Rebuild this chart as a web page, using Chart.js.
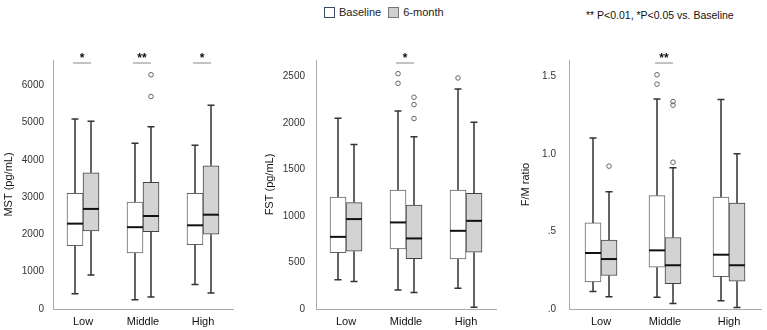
<!DOCTYPE html>
<html>
<head>
<meta charset="utf-8">
<script src="https://cdn.jsdelivr.net/npm/chart.js@4/dist/chart.umd.min.js"></script>
<style>
  body { margin: 0; background: #fff; font-family: "Liberation Sans", Arial, sans-serif; }
  #wrap { position: relative; width: 767px; height: 330px; overflow: hidden; }
  .panel { position: absolute; top: 0; height: 330px; }
  .legend { position: absolute; top: 6px; left: 324px; font-size: 11px; color: #222; display: flex; align-items: center; }
  .legend .box { width: 9px; height: 9px; border: 1px solid #3b4a66; margin-right: 4px; }
  .legend span { margin-right: 7px; }
  .note { position: absolute; top: 9px; left: 586px; font-size: 10.5px; color: #111; }
</style>
</head>
<body>
<div id="wrap">
  <div class="legend">
    <div class="box" style="background:#fff"></div><span>Baseline</span>
    <div class="box" style="background:#d0d0d0;border-color:#777"></div><span>6-month</span>
  </div>
  <div class="note">** P&lt;0.01, *P&lt;0.05 vs. Baseline</div>
  <div class="panel" style="left:0;width:240px"><canvas id="mstChart" width="240" height="330"></canvas></div>
  <div class="panel" style="left:260px;width:245px"><canvas id="fstChart" width="245" height="330"></canvas></div>
  <div class="panel" style="left:510px;width:257px"><canvas id="fmChart" width="257" height="330"></canvas></div>
</div>
<script>
const categories = ['Low', 'Middle', 'High'];
const seriesNames = ['Baseline', '6-month'];

// each box: [min, q1, median, q3, max]
const mstBaseline = [[410, 1700, 2290, 3105, 5095], [250, 1505, 2195, 2870, 4445], [660, 1725, 2245, 3105, 4395]];
const mstMonth6 = [[915, 2095, 2685, 3655, 5040], [325, 2075, 2495, 3395, 4890], [428, 2005, 2530, 3840, 5465]];
const mstOutBaseline = [[], [], []];
const mstOutMonth6 = [[], [6285, 5700], []];
const mstSig = ['*', '**', '*'];
const mstTicks = [0, 1000, 2000, 3000, 4000, 5000, 6000];

const fstBaseline = [[315, 604, 775, 1203, 2048], [205, 646, 930, 1278, 2127], [223, 538, 840, 1278, 2364]];
const fstMonth6 = [[295, 621, 966, 1143, 1766], [176, 542, 758, 1116, 1850], [18, 610, 947, 1242, 2007]];
const fstOutBaseline = [[], [2528, 2425], [2482]];
const fstOutMonth6 = [[], [2275, 2196, 2046], []];
const fstSig = ['', '*', ''];
const fstTicks = [0, 500, 1000, 1500, 2000, 2500];

const fmBaseline = [[0.113, 0.175, 0.361, 0.555, 1.103], [0.075, 0.269, 0.378, 0.731, 1.354], [0.053, 0.209, 0.350, 0.722, 1.35]];
const fmMonth6 = [[0.079, 0.216, 0.322, 0.444, 0.756], [0.036, 0.164, 0.282, 0.461, 0.91], [0.01, 0.179, 0.282, 0.683, 1.0]];
const fmOutBaseline = [[], [1.51, 1.449], []];
const fmOutMonth6 = [[0.921], [0.946, 1.337, 1.314], []];
const fmSig = ['', '**', ''];
const fmTicks = [0, 0.5, 1.0, 1.5];

// whiskers, medians, outliers and significance marks on top of the floating bars
const boxPlugin = {
  id: 'boxExtras',
  afterDatasetsDraw(chart) {
    const ctx = chart.ctx;
    const y = chart.scales.y;
    ctx.save();
    chart.data.datasets.forEach((ds, i) => {
      const meta = chart.getDatasetMeta(i);
      meta.data.forEach((bar, j) => {
        const [mn, q1, med, q3, mx] = ds.stats[j];
        const x = bar.x;
        const half = bar.width / 2;
        ctx.strokeStyle = '#333';
        ctx.lineWidth = 1.5;
        ctx.beginPath();
        ctx.moveTo(x, y.getPixelForValue(q3));
        ctx.lineTo(x, y.getPixelForValue(mx));
        ctx.moveTo(x, y.getPixelForValue(q1));
        ctx.lineTo(x, y.getPixelForValue(mn));
        ctx.moveTo(x - 3.5, y.getPixelForValue(mx));
        ctx.lineTo(x + 3.5, y.getPixelForValue(mx));
        ctx.moveTo(x - 3.5, y.getPixelForValue(mn));
        ctx.lineTo(x + 3.5, y.getPixelForValue(mn));
        ctx.stroke();
        // median
        ctx.strokeStyle = '#111';
        ctx.lineWidth = 2;
        ctx.beginPath();
        ctx.moveTo(x - half, y.getPixelForValue(med));
        ctx.lineTo(x + half, y.getPixelForValue(med));
        ctx.stroke();
        // outliers
        ctx.strokeStyle = '#666';
        ctx.lineWidth = 1;
        ds.outliers[j].forEach(v => {
          ctx.beginPath();
          ctx.arc(x, y.getPixelForValue(v), 2.3, 0, Math.PI * 2);
          ctx.stroke();
        });
      });
    });
    const m0 = chart.getDatasetMeta(0).data;
    const m1 = chart.getDatasetMeta(1).data;
    chart.options.plugins.boxExtras.sig.forEach((s, j) => {
      if (!s) return;
      const top = chart.chartArea.top + 3;
      ctx.strokeStyle = '#888';
      ctx.lineWidth = 1;
      ctx.beginPath();
      ctx.moveTo(m0[j].x - 2, top);
      ctx.lineTo(m1[j].x, top);
      ctx.stroke();
      ctx.fillStyle = '#111';
      ctx.font = 'bold 12px "Liberation Sans", Arial';
      ctx.textAlign = 'center';
      ctx.fillText(s, (m0[j].x + m1[j].x) / 2 - 1, top - 1);
    });
    ctx.restore();
  }
};

function makeChart(id, opts) {
  const ds = (label, stats, outliers, fill, border) => ({
    label,
    data: stats.map(s => [s[1], s[3]]),
    stats,
    outliers,
    backgroundColor: fill,
    borderColor: border,
    borderWidth: 1,
    borderSkipped: false,
    barThickness: 16,
    categoryPercentage: opts.catPct,
    barPercentage: 1
  });
  return new Chart(document.getElementById(id), {
    type: 'bar',
    data: {
      labels: categories,
      datasets: [
        ds(seriesNames[0], opts.base, opts.outBase, '#ffffff', '#666'),
        ds(seriesNames[1], opts.m6, opts.outM6, '#d3d3d3', '#444')
      ]
    },
    options: {
      responsive: false,
      animation: false,
      layout: { padding: { left: 0, right: opts.padRight, top: 60, bottom: 0 } },
      plugins: {
        legend: { display: false },
        tooltip: { enabled: false },
        boxExtras: { sig: opts.sig }
      },
      scales: {
        x: {
          grid: { display: false, drawTicks: false },
          border: { color: '#aaa' },
          ticks: { color: '#111', font: { size: 11, family: '"Liberation Sans", Arial' }, padding: 6 },
          afterFit: s => { s.height = 21; }
        },
        y: {
          min: 0,
          max: opts.max,
          grid: { display: false, drawTicks: false },
          border: { color: '#aaa' },
          afterBuildTicks: s => { s.ticks = opts.ticks.map(v => ({ value: v })); },
          ticks: {
            color: '#333',
            padding: opts.tickPad,
            font: { size: 10, family: '"Liberation Sans", Arial' },
            callback: opts.fmt
          },
          title: {
            display: true,
            text: opts.title,
            color: '#111',
            font: { size: 11, family: '"Liberation Sans", Arial' },
            padding: { top: opts.titlePad, bottom: 0 }
          },
          afterFit: s => { s.width = opts.yWidth; }
        }
      }
    },
    plugins: [boxPlugin]
  });
}

makeChart('mstChart', {
  base: mstBaseline, m6: mstMonth6, outBase: mstOutBaseline, outM6: mstOutMonth6, sig: mstSig, ticks: mstTicks,
  max: 6680, title: 'MST (pg/mL)', yWidth: 53, padRight: 7, tickPad: 9, catPct: 0.7, titlePad: 2,
  fmt: v => v
});
makeChart('fstChart', {
  base: fstBaseline, m6: fstMonth6, outBase: fstOutBaseline, outM6: fstOutMonth6, sig: fstSig, ticks: fstTicks,
  max: 2675, title: 'FST (pg/mL)', yWidth: 56, padRight: 9, tickPad: 11, catPct: 0.7, titlePad: 3,
  fmt: v => v
});
makeChart('fmChart', {
  base: fmBaseline, m6: fmMonth6, outBase: fmOutBaseline, outM6: fmOutMonth6, sig: fmSig, ticks: fmTicks,
  max: 1.605, title: 'F/M ratio', yWidth: 59, padRight: 6, tickPad: 13, catPct: 0.656, titlePad: 9,
  fmt: v => v.toFixed(1).replace(/^0/, '')
});
</script>
</body>
</html>
